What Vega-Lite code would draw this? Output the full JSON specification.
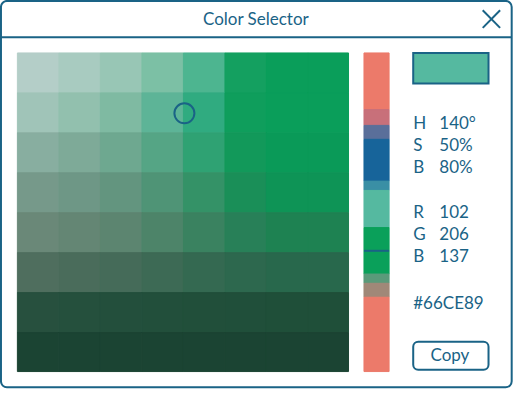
{
"$schema":"https://vega.github.io/schema/vega-lite/v6.json",
"width":531,"height":418,"padding":0,
"autosize":{"type":"none"},
"config":{"view":{"stroke":null},"text":{"font":"Lato","fontSize":17,"color":"#1a6386"}},
"datasets":{
"grid":[
{"x":18,"x2":61,"y":57,"y2":100,"c":"#b4cec8"},{"x":61,"x2":104,"y":57,"y2":100,"c":"#a8cbc0"},{"x":104,"x2":147,"y":57,"y2":100,"c":"#98c6b5"},{"x":147,"x2":190,"y":57,"y2":100,"c":"#7cc0a5"},{"x":190,"x2":233,"y":57,"y2":100,"c":"#4db590"},{"x":233,"x2":276,"y":57,"y2":100,"c":"#14a060"},{"x":276,"x2":319,"y":57,"y2":100,"c":"#0a9e5a"},{"x":319,"x2":361,"y":57,"y2":100,"c":"#0a9e5a"},
{"x":18,"x2":61,"y":100,"y2":143,"c":"#a0c4b8"},{"x":61,"x2":104,"y":100,"y2":143,"c":"#92c0ae"},{"x":104,"x2":147,"y":100,"y2":143,"c":"#7fbaa2"},{"x":147,"x2":190,"y":100,"y2":143,"c":"#5db497"},{"x":190,"x2":233,"y":100,"y2":143,"c":"#30ab80"},{"x":233,"x2":276,"y":100,"y2":143,"c":"#0f9e5c"},{"x":276,"x2":319,"y":100,"y2":143,"c":"#0a9e5a"},{"x":319,"x2":361,"y":100,"y2":143,"c":"#0a9e5a"},
{"x":18,"x2":61,"y":143,"y2":186,"c":"#88aea0"},{"x":61,"x2":104,"y":143,"y2":186,"c":"#7eaa98"},{"x":104,"x2":147,"y":143,"y2":186,"c":"#6ea890"},{"x":147,"x2":190,"y":143,"y2":186,"c":"#55a585"},{"x":190,"x2":233,"y":143,"y2":186,"c":"#2fa273"},{"x":233,"x2":276,"y":143,"y2":186,"c":"#12995a"},{"x":276,"x2":319,"y":143,"y2":186,"c":"#0a9a58"},{"x":319,"x2":361,"y":143,"y2":186,"c":"#0a9a58"},
{"x":18,"x2":61,"y":186,"y2":229,"c":"#76998a"},{"x":61,"x2":104,"y":186,"y2":229,"c":"#6e9786"},{"x":104,"x2":147,"y":186,"y2":229,"c":"#63957f"},{"x":147,"x2":190,"y":186,"y2":229,"c":"#4f9476"},{"x":190,"x2":233,"y":186,"y2":229,"c":"#349267"},{"x":233,"x2":276,"y":186,"y2":229,"c":"#1a8f58"},{"x":276,"x2":319,"y":186,"y2":229,"c":"#0e9456"},{"x":319,"x2":361,"y":186,"y2":229,"c":"#0e9456"},
{"x":18,"x2":61,"y":229,"y2":272,"c":"#6a8878"},{"x":61,"x2":104,"y":229,"y2":272,"c":"#648674"},{"x":104,"x2":147,"y":229,"y2":272,"c":"#5c8570"},{"x":147,"x2":190,"y":229,"y2":272,"c":"#4d8469"},{"x":190,"x2":233,"y":229,"y2":272,"c":"#3a8260"},{"x":233,"x2":276,"y":229,"y2":272,"c":"#288058"},{"x":276,"x2":319,"y":229,"y2":272,"c":"#1e8252"},{"x":319,"x2":361,"y":229,"y2":272,"c":"#1e8252"},
{"x":18,"x2":61,"y":272,"y2":315,"c":"#4f6e5e"},{"x":61,"x2":104,"y":272,"y2":315,"c":"#4a6c5b"},{"x":104,"x2":147,"y":272,"y2":315,"c":"#456b59"},{"x":147,"x2":190,"y":272,"y2":315,"c":"#3d6a55"},{"x":190,"x2":233,"y":272,"y2":315,"c":"#346951"},{"x":233,"x2":276,"y":272,"y2":315,"c":"#2d684e"},{"x":276,"x2":319,"y":272,"y2":315,"c":"#28684c"},{"x":319,"x2":361,"y":272,"y2":315,"c":"#28684c"},
{"x":18,"x2":61,"y":315,"y2":358,"c":"#27503e"},{"x":61,"x2":104,"y":315,"y2":358,"c":"#25503d"},{"x":104,"x2":147,"y":315,"y2":358,"c":"#234f3c"},{"x":147,"x2":190,"y":315,"y2":358,"c":"#224f3b"},{"x":190,"x2":233,"y":315,"y2":358,"c":"#214f3a"},{"x":233,"x2":276,"y":315,"y2":358,"c":"#204f3a"},{"x":276,"x2":319,"y":315,"y2":358,"c":"#1f4f39"},{"x":319,"x2":361,"y":315,"y2":358,"c":"#1f4f39"},
{"x":18,"x2":61,"y":358,"y2":400,"c":"#1b4433"},{"x":61,"x2":104,"y":358,"y2":400,"c":"#1b4433"},{"x":104,"x2":147,"y":358,"y2":400,"c":"#1b4433"},{"x":147,"x2":190,"y":358,"y2":400,"c":"#1b4433"},{"x":190,"x2":233,"y":358,"y2":400,"c":"#1b4433"},{"x":233,"x2":276,"y":358,"y2":400,"c":"#1b4433"},{"x":276,"x2":319,"y":358,"y2":400,"c":"#1b4433"},{"x":319,"x2":361,"y":358,"y2":400,"c":"#1b4433"}
],
"hue":[
{"x":377,"x2":403,"y":57,"y2":118,"c":"#ec7a6a"},
{"x":377,"x2":403,"y":118,"y2":135,"c":"#c8707a"},
{"x":377,"x2":403,"y":135,"y2":150,"c":"#5a6f9a"},
{"x":377,"x2":403,"y":150,"y2":195,"c":"#17649a"},
{"x":377,"x2":403,"y":195,"y2":205,"c":"#3a8fa5"},
{"x":377,"x2":403,"y":205,"y2":245,"c":"#55b9a0"},
{"x":377,"x2":403,"y":245,"y2":295,"c":"#0aa05a"},
{"x":377,"x2":403,"y":295,"y2":305,"c":"#5a9a7a"},
{"x":377,"x2":403,"y":305,"y2":320,"c":"#a08878"},
{"x":377,"x2":403,"y":320,"y2":400,"c":"#ec7a6a"}
]
},
"layer":[
{"data":{"values":[{"x":1,"x2":530,"y":1,"y2":417}]},"mark":{"type":"rect","fill":"white","stroke":"#1a6386","strokeWidth":2,"cornerRadius":6},
"encoding":{"x":{"field":"x","type":"quantitative","scale":{"domain":[0,531]},"axis":null},"x2":{"field":"x2"},"y":{"field":"y","type":"quantitative","scale":{"domain":[0,418],"reverse":true},"axis":null},"y2":{"field":"y2"}}},
{"data":{"name":"grid"},"mark":{"type":"rect","strokeWidth":1},
"encoding":{"x":{"field":"x","type":"quantitative"},"x2":{"field":"x2"},"y":{"field":"y","type":"quantitative"},"y2":{"field":"y2"},"color":{"field":"c","type":"nominal","scale":null},"stroke":{"field":"c","type":"nominal","scale":null}}},
{"data":{"name":"hue"},"mark":{"type":"rect","strokeWidth":1},
"encoding":{"x":{"field":"x","type":"quantitative"},"x2":{"field":"x2"},"y":{"field":"y","type":"quantitative"},"y2":{"field":"y2"},"color":{"field":"c","type":"nominal","scale":null},"stroke":{"field":"c","type":"nominal","scale":null}}},
{"data":{"values":[{"x":428,"x2":506,"y":57,"y2":90}]},"mark":{"type":"rect","fill":"#55b9a0","stroke":"#1a6386","strokeWidth":2},
"encoding":{"x":{"field":"x","type":"quantitative"},"x2":{"field":"x2"},"y":{"field":"y","type":"quantitative"},"y2":{"field":"y2"}}},
{"data":{"values":[{"x":428,"x2":506,"y":368,"y2":398}]},"mark":{"type":"rect","fill":"white","stroke":"#1a6386","strokeWidth":2,"cornerRadius":5},
"encoding":{"x":{"field":"x","type":"quantitative"},"x2":{"field":"x2"},"y":{"field":"y","type":"quantitative"},"y2":{"field":"y2"}}},
{"data":{"values":[{"x":1,"x2":530,"y":40,"y2":40},{"x":377,"x2":403,"y":270,"y2":270},{"x":500,"x2":518,"y":11,"y2":30},{"x":518,"x2":500,"y":11,"y2":30}]},"mark":{"type":"rule","stroke":"#1a6386","strokeWidth":2},
"encoding":{"x":{"field":"x","type":"quantitative"},"x2":{"field":"x2"},"y":{"field":"y","type":"quantitative"},"y2":{"field":"y2"}}},
{"data":{"values":[{"x":191,"y":122}]},"mark":{"type":"point","shape":"circle","size":400,"stroke":"#1a6386","strokeWidth":2,"filled":false,"opacity":1},
"encoding":{"x":{"field":"x","type":"quantitative"},"y":{"field":"y","type":"quantitative"}}},
{"data":{"values":[{"x":265,"y":21,"t":"Color Selector"},{"x":466,"y":383,"t":"Copy"}]},"mark":{"type":"text","align":"center","baseline":"middle"},
"encoding":{"x":{"field":"x","type":"quantitative"},"y":{"field":"y","type":"quantitative"},"text":{"field":"t"}}},
{"data":{"values":[{"x":428,"y":133,"t":"H"},{"x":455,"y":133,"t":"140°"},{"x":428,"y":157,"t":"S"},{"x":455,"y":157,"t":"50%"},{"x":428,"y":181,"t":"B"},{"x":455,"y":181,"t":"80%"},{"x":428,"y":229,"t":"R"},{"x":455,"y":229,"t":"102"},{"x":428,"y":253,"t":"G"},{"x":455,"y":253,"t":"206"},{"x":428,"y":277,"t":"B"},{"x":455,"y":277,"t":"137"},{"x":428,"y":327,"t":"#66CE89"}]},"mark":{"type":"text","align":"left","baseline":"middle"},
"encoding":{"x":{"field":"x","type":"quantitative"},"y":{"field":"y","type":"quantitative"},"text":{"field":"t"}}}
]
}
